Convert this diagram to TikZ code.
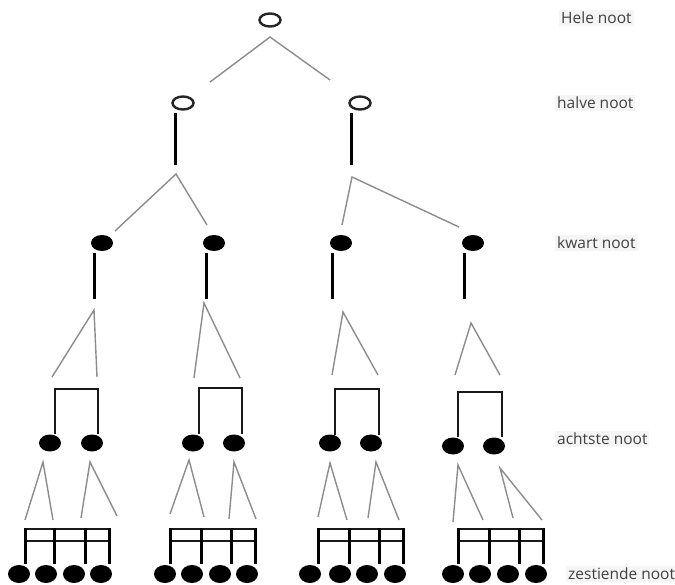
\documentclass[tikz,border=0pt]{standalone}
\usepackage{fontspec}
\setmainfont{Open Sans}
\usetikzlibrary{shapes.geometric}
\tikzset{
  conn/.style={draw=black!45, line width=1.4pt},
  stemline/.style={draw=black, line width=3pt},
  beamline/.style={draw=black!90, line width=2.8pt, line join=miter},
  hollow/.style={ellipse, draw=black!85, line width=2.4pt, fill=white, minimum width=21pt, minimum height=13pt, inner sep=0pt},
  filled/.style={ellipse, fill=black, minimum width=22pt, minimum height=16pt, inner sep=0pt},
  lbl/.style={anchor=west, fill=black!4, text=black!75, font=\fontsize{15.5}{18}\selectfont, inner sep=2pt}
}
\begin{document}
\begin{tikzpicture}[x=1pt,y=-1pt]
\useasboundingbox[fill=white] (0,0) rectangle (675,584);

% labels
\node[lbl] (L1) at (559,18) {Hele noot};
\node[lbl] (L2) at (555,103) {halve noot};
\node[lbl] (L3) at (555,243) {kwart noot};
\node[lbl] (L4) at (555,439) {achtste noot};
\node[lbl] (L5) at (566,574) {zestiende noot};

% whole note
\node[hollow] (W) at (270,20) {};
\coordinate (Wa) at (270,37);
\coordinate (Wl) at (210,82);
\coordinate (Wr) at (330,80);
\draw[conn] (Wl) -- (Wa) -- (Wr);

% half notes
\node[hollow] (H1) at (183,103) {};
\node[hollow] (H2) at (360,103) {};
\draw[stemline] (175,113) -- (175,165);
\draw[stemline] (351,113) -- (351,165);
\coordinate (H1a) at (176,174);
\coordinate (H1l) at (115,231);
\coordinate (H1r) at (207,225);
\draw[conn] (H1l) -- (H1a) -- (H1r);
\coordinate (H2a) at (352,177);
\coordinate (H2l) at (342,225);
\coordinate (H2r) at (459,227);
\draw[conn] (H2l) -- (H2a) -- (H2r);

% quarter notes
\node[filled] (Q1) at (102,243) {};
\node[filled] (Q2) at (214,243) {};
\node[filled] (Q3) at (341,243) {};
\node[filled] (Q4) at (473,243) {};
\foreach \x in {94,206,332,464}{
  \draw[stemline] (\x,253) -- (\x,299);
}
\coordinate (Q1a) at (94,310);
\coordinate (Q1l) at (52,377);
\coordinate (Q1r) at (97,377);
\draw[conn] (Q1l) -- (Q1a) -- (Q1r);
\coordinate (Q2a) at (204,303);
\coordinate (Q2l) at (194,378);
\coordinate (Q2r) at (240,378);
\draw[conn] (Q2l) -- (Q2a) -- (Q2r);
\coordinate (Q3a) at (343,312);
\coordinate (Q3l) at (332,375);
\coordinate (Q3r) at (378,375);
\draw[conn] (Q3l) -- (Q3a) -- (Q3r);
\coordinate (Q4a) at (471,323);
\coordinate (Q4l) at (455,375);
\coordinate (Q4r) at (500,375);
\draw[conn] (Q4l) -- (Q4a) -- (Q4r);

% eighth notes
\node[filled, minimum height=17pt] (E1) at (50,443) {};
\node[filled, minimum height=17pt] (E2) at (92,443) {};
\node[filled, minimum height=17pt] (E3) at (193,443) {};
\node[filled, minimum height=17pt] (E4) at (234,443) {};
\node[filled, minimum height=17pt] (E5) at (330,443) {};
\node[filled, minimum height=17pt] (E6) at (371,443) {};
\node[filled, minimum height=17pt] (E7) at (453,446) {};
\node[filled, minimum height=17pt] (E8) at (494,446) {};
\draw[beamline] (55,434) -- (55,389) -- (98,389) -- (98,434);
\draw[beamline] (199,434) -- (199,388) -- (242,388) -- (242,434);
\draw[beamline] (335,435) -- (335,389) -- (379,389) -- (379,435);
\draw[beamline] (458,437) -- (458,392) -- (502,392) -- (502,437);

% eighth -> sixteenth connectors
\coordinate (E1a) at (43,462); \coordinate (E1l) at (25,520); \coordinate (E1r) at (53,520);
\coordinate (E2a) at (90,462); \coordinate (E2l) at (81,518); \coordinate (E2r) at (117,516);
\coordinate (E3a) at (189,460); \coordinate (E3l) at (170,514); \coordinate (E3r) at (204,517);
\coordinate (E4a) at (234,462); \coordinate (E4l) at (229,519); \coordinate (E4r) at (256,519);
\coordinate (E5a) at (330,463); \coordinate (E5l) at (318,517); \coordinate (E5r) at (347,520);
\coordinate (E6a) at (376,462); \coordinate (E6l) at (368,518); \coordinate (E6r) at (399,520);
\coordinate (E7a) at (458,465); \coordinate (E7l) at (453,522); \coordinate (E7r) at (483,520);
\coordinate (E8a) at (500,468); \coordinate (E8l) at (513,518); \coordinate (E8r) at (542,520);
\foreach \n in {1,...,8}{
  \draw[conn] (E\n l) -- (E\n a) -- (E\n r);
}

% sixteenth notes
\foreach \g/\a/\b/\c/\d/\ha/\hb/\hc/\hd in {
  1/25/54/85/109/19/46/74/101,
  2/170/201/231/255/165/192/220/247,
  3/318/349/379/403/310/340/367/395,
  4/458/489/519/543/453/480/508/536}{
  \draw[beamline] (\a,529) -- (\d,529);
  \draw[beamline] (\a,541) -- (\d,541);
  \foreach \s in {\a,\b,\c,\d}{
    \draw[stemline] (\s,528) -- (\s,564);
  }
  \node[filled, minimum height=18pt] (S\g a) at (\ha,574) {};
  \node[filled, minimum height=18pt] (S\g b) at (\hb,574) {};
  \node[filled, minimum height=18pt] (S\g c) at (\hc,574) {};
  \node[filled, minimum height=18pt] (S\g d) at (\hd,574) {};
}
\end{tikzpicture}
\end{document}
